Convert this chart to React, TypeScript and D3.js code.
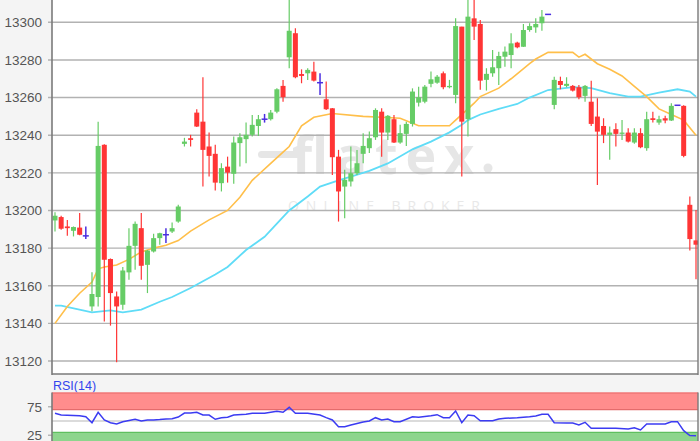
import React from 'react';
import * as d3 from 'd3';

// ---- price axis ----
const priceTicks = [13120, 13140, 13160, 13180, 13200, 13220, 13240, 13260, 13280, 13300];

// ---- candles (index = bar number) ----
const opens = [
  13194.7, 13196.5, 13191.5, 13189.2, 13190.9, 13186.5, 13149.0, 13154.0, 13234.9, 13174.2,
  13154.3, 13149.9, 13167.1, 13181.2, 13190.6, 13171.1, 13178.2, 13185.3, 13187.1, 13188.8,
  13194.1, 13235.4, 13238.4, 13252.0, 13247.2, 13234.0, 13230.1, 13214.5, 13223.3, 13219.5,
  13235.8, 13237.9, 13240.2, 13244.9, 13248.5, 13248.5, 13252.5, 13266.2, 13281.4, 13294.2,
  13272.5, 13272.9, 13273.8, 13267.9, 13259.1, 13254.3, 13228.6, 13212.7, 13215.4, 13219.8,
  13230.1, 13233.1, 13238.9, 13252.5, 13241.4, 13248.5, 13236.1, 13240.7, 13246.0, 13257.3,
  13257.8, 13267.3, 13267.9, 13272.9, 13265.5, 13261.4, 13297.7, 13248.5, 13302.1, 13299.1,
  13269.4, 13272.9, 13275.6, 13281.7, 13282.6, 13289.2, 13287.0, 13295.9, 13297.3, 13299.5,
  13304.2, 13256.1, 13268.8, 13266.2, 13266.2, 13265.5, 13260.9, 13257.8, 13249.9, 13244.9,
  13240.2, 13243.2, 13240.7, 13241.4, 13236.1, 13241.1, 13233.1, 13249.0, 13246.7, 13249.0,
  13247.8, 13255.9, 13255.6, 13203.0, 13184.1,
];
const highs = [
  13199.1, 13197.2, 13195.0, 13191.5, 13198.6, 13191.5, 13167.1, 13247.2, 13235.2, 13174.5,
  13156.9, 13169.9, 13190.6, 13194.1, 13198.6, 13179.0, 13187.6, 13188.2, 13190.6, 13193.6,
  13203.0, 13238.6, 13240.2, 13253.8, 13270.8, 13241.4, 13234.9, 13225.1, 13228.6, 13239.3,
  13241.1, 13246.7, 13250.8, 13250.8, 13251.3, 13253.4, 13264.9, 13269.4, 13315.0, 13296.8,
  13275.0, 13275.6, 13279.1, 13272.9, 13268.5, 13254.5, 13232.2, 13221.6, 13234.0, 13232.2,
  13241.1, 13241.9, 13254.3, 13254.3, 13250.8, 13250.8, 13245.5, 13247.2, 13264.9, 13265.8,
  13266.7, 13273.8, 13272.0, 13273.8, 13269.4, 13302.1, 13297.7, 13315.0, 13315.0, 13301.2,
  13275.6, 13285.3, 13284.4, 13287.1, 13294.2, 13289.7, 13299.1, 13299.5, 13302.1, 13306.5,
  13304.2, 13271.1, 13271.1, 13270.8, 13266.7, 13266.7, 13266.7, 13269.0, 13259.6, 13249.0,
  13244.6, 13246.4, 13248.1, 13243.7, 13243.7, 13243.7, 13252.5, 13252.5, 13250.3, 13250.3,
  13257.0, 13255.9, 13255.9, 13207.4, 13200.3,
];
const lows = [
  13188.8, 13189.7, 13186.5, 13186.2, 13186.8, 13184.9, 13146.4, 13149.0, 13141.0, 13138.8,
  13119.3, 13147.3, 13163.2, 13168.5, 13163.2, 13156.1, 13177.7, 13181.8, 13182.7, 13188.0,
  13193.5, 13234.0, 13234.0, 13244.3, 13212.7, 13218.0, 13210.6, 13210.1, 13214.8, 13214.2,
  13223.3, 13225.1, 13239.3, 13239.6, 13246.7, 13247.8, 13251.7, 13257.8, 13275.6, 13270.3,
  13267.6, 13269.4, 13268.5, 13261.4, 13253.4, 13218.9, 13194.1, 13195.9, 13212.7, 13218.9,
  13225.1, 13230.5, 13237.5, 13228.6, 13237.5, 13235.8, 13235.4, 13234.3, 13244.6, 13255.2,
  13257.0, 13265.5, 13267.3, 13264.4, 13264.9, 13257.0, 13218.0, 13239.3, 13290.6, 13264.1,
  13263.7, 13271.1, 13266.7, 13276.4, 13275.6, 13286.2, 13286.9, 13295.0, 13294.5, 13295.5,
  13304.2, 13253.8, 13264.4, 13265.5, 13263.2, 13259.1, 13257.8, 13244.9, 13213.6, 13235.8,
  13226.9, 13234.0, 13237.5, 13236.1, 13235.4, 13233.1, 13231.8, 13246.7, 13245.5, 13246.4,
  13247.6, 13255.9, 13228.3, 13178.7, 13163.5,
];
const closes = [
  13197.2, 13190.3, 13190.6, 13191.2, 13187.1, 13186.5, 13155.6, 13234.3, 13173.8, 13156.1,
  13149.0, 13168.1, 13181.2, 13192.9, 13170.6, 13178.7, 13185.3, 13187.9, 13187.1, 13190.6,
  13202.1, 13236.6, 13237.5, 13244.6, 13232.2, 13229.0, 13214.8, 13222.5, 13220.1, 13236.1,
  13238.9, 13240.2, 13245.5, 13248.5, 13248.5, 13252.0, 13264.4, 13260.2, 13295.5, 13270.8,
  13271.5, 13274.7, 13269.0, 13267.9, 13253.8, 13228.3, 13210.1, 13216.3, 13219.8, 13225.1,
  13234.3, 13238.4, 13253.4, 13241.4, 13250.3, 13236.1, 13241.1, 13246.0, 13263.2, 13260.2,
  13265.8, 13269.7, 13271.1, 13265.5, 13266.2, 13298.0, 13247.2, 13303.0, 13297.7, 13269.0,
  13272.6, 13276.1, 13282.1, 13284.4, 13288.8, 13286.7, 13295.9, 13298.0, 13299.1, 13303.0,
  13304.2, 13269.4, 13266.7, 13267.3, 13263.7, 13260.2, 13266.2, 13246.0, 13241.9, 13240.2,
  13241.4, 13240.7, 13241.4, 13236.6, 13241.4, 13233.6, 13248.5, 13248.1, 13248.5, 13247.8,
  13255.6, 13255.9, 13229.0, 13184.8, 13181.8,
];

// ---- moving averages (bar index, value) ----
const maFastIdx = [0, 2, 4, 6, 7, 8, 10, 12, 14, 16, 18, 20, 22, 25, 28, 30, 32, 35, 37, 38, 40, 42, 45, 50, 53, 56, 59, 64, 65, 67, 68, 69, 72, 74, 77, 78, 80, 82, 84, 85, 86, 88, 90, 92, 94, 96, 98, 100, 102, 104];
const maFast = [13140, 13149, 13156, 13162, 13169, 13170, 13171, 13174, 13178, 13180, 13181.5, 13184, 13189, 13195, 13200, 13207, 13216, 13225, 13231, 13234, 13245, 13249.5, 13251.5, 13250, 13249.5, 13249, 13245, 13245, 13248, 13254, 13257, 13260.5, 13265, 13270, 13278, 13280.5, 13284, 13284, 13284, 13281.5, 13283, 13278, 13275, 13271.5, 13266, 13260.5, 13254, 13251, 13248, 13240];

const maSlowIdx = [0, 1, 6, 9, 11, 14, 17, 19, 22, 26, 28, 31, 34, 36, 38, 41, 43, 46, 48, 51, 54, 58, 61, 64, 66, 67, 69, 72, 75, 77, 80, 84, 87, 90, 93, 95, 98, 101, 103, 104];
const maSlow = [13149.4, 13149.4, 13145.8, 13146.9, 13145.8, 13147.3, 13151.5, 13154, 13158.8, 13166, 13170, 13179, 13186, 13193, 13200, 13207.4, 13212.7, 13216, 13218, 13221, 13225, 13232.5, 13236.6, 13241.5, 13245.5, 13248, 13251, 13254, 13256.6, 13260, 13264, 13265.5, 13265, 13262.3, 13260.5, 13260.5, 13262.6, 13264.4, 13263.2, 13260.5];

// ---- RSI(14) ----
const rsiIdx = [0, 1, 4, 5, 6, 7, 8, 9, 10, 11, 13, 14, 15, 16, 17, 18, 19, 20, 21, 22, 23, 24, 25, 26, 27, 28, 29, 31, 32, 34, 36, 37, 38, 39, 41, 43, 44, 45, 46, 47, 48, 50, 51, 52, 53, 54, 55, 56, 58, 59, 61, 62, 63, 64, 65, 66, 67, 68, 69, 71, 72, 73, 75, 77, 78, 79, 80, 81, 83, 84, 85, 86, 87, 89, 91, 93, 94, 95, 96, 99, 100, 101, 102, 103, 104];
const rsiValues = [63.5, 60.5, 59.3, 57.5, 47.0, 65.3, 51.8, 47.0, 44.7, 48.8, 53.0, 50.0, 51.8, 51.8, 52.5, 53.5, 54.0, 57.0, 64.0, 64.0, 65.3, 60.5, 60.5, 53.0, 55.8, 56.5, 60.5, 61.8, 63.5, 63.5, 67.0, 65.3, 74.0, 63.5, 63.5, 60.5, 56.0, 51.8, 40.0, 40.0, 43.0, 48.2, 50.0, 55.8, 51.8, 53.5, 48.8, 48.8, 57.5, 56.5, 59.3, 61.1, 55.8, 55.8, 67.5, 47.0, 60.5, 59.3, 50.5, 50.5, 53.5, 54.7, 55.8, 57.5, 58.8, 61.8, 61.8, 47.0, 46.5, 46.5, 43.0, 47.7, 37.2, 37.2, 37.2, 36.0, 38.2, 34.2, 44.7, 44.7, 48.8, 48.8, 33.0, 24.5, 24.0];
const rsiTicks = [75, 25];
const rsiUpper = 70;
const rsiLower = 30;
const rsiLabel = 'RSI(14)';

const UP = '#66cc66';
const DOWN = '#ff3535';
const DOJI = '#4a2ee0';

export default function App() {
  const W = 700, H = 441;
  const left = 52, right = 698, top = 0, bottom = 374;
  const rTop = 392.5, rBottom = 441;

  const x = d3.scaleLinear().domain([0, opens.length - 1]).range([55, 696]);
  const y = d3.scaleLinear().domain([13120, 13300]).range([361, 22.3]);
  const ry = d3.scaleLinear().domain([0, 100]).range([449.5, 392.5]);

  const bodyW = 5;

  const lineGen = d3.line<[number, number]>().x(d => x(d[0])).y(d => y(d[1]));
  const fastPath = lineGen(maFastIdx.map((i, k) => [i, maFast[k]]) as [number, number][]) || '';
  const slowPath = lineGen(maSlowIdx.map((i, k) => [i, maSlow[k]]) as [number, number][]) || '';
  const rsiPath = d3.line<[number, number]>().x(d => x(d[0])).y(d => ry(d[1]))(
    rsiIdx.map((i, k) => [i, rsiValues[k]]) as [number, number][]) || '';

  const font = '"Liberation Sans", Arial, sans-serif';

  return (
    <svg width={W} height={H} style={{ position: 'absolute', left: 0, top: 0, display: 'block' }}
      xmlns="http://www.w3.org/2000/svg">
      <defs>
        <clipPath id="mainClip"><rect x={left} y={top} width={right - left} height={bottom - top} /></clipPath>
        <clipPath id="rsiClip"><rect x={left} y={rTop} width={right - left} height={rBottom - rTop} /></clipPath>
      </defs>
      <rect x={0} y={0} width={W} height={H} fill="#f4f4f4" />
      {/* main plot */}
      <rect x={left} y={top} width={right - left} height={bottom - top} fill="#ffffff" />
      {/* watermark */}
      <g fill="#d6d6d6" opacity={0.6}>
        <rect x={258} y={151} width={46} height={7} rx={3.5} />
        <text x={292} y={174} fontSize={52} fontWeight={700} fontFamily='"Open Sans", "Noto Sans", sans-serif'
          textLength={182} lengthAdjust="spacing">flatex</text>
        <circle cx={488} cy={168} r={4.5} />
        <text x={288} y={211} fontSize={14} fontFamily='"Open Sans", "Noto Sans", sans-serif'
          textLength={192} lengthAdjust="spacing" fill="#dadada">ONLINE BROKER</text>
      </g>
      {/* grid */}
      {priceTicks.map(t => (
        <g key={t}>
          <line x1={left - 4} x2={right} y1={y(t)} y2={y(t)} stroke="#b2b2b2" strokeWidth={1.4} />
          <text x={42} y={y(t)} dy="0.36em" textAnchor="end" fontSize={13.5} fill="#555" fontFamily={font}>{t}</text>
        </g>
      ))}
      <g clipPath="url(#mainClip)">
        <path d={slowPath} fill="none" stroke="#5fdcf7" strokeWidth={1.8} />
        <path d={fastPath} fill="none" stroke="#ffbf4a" strokeWidth={1.6} />
        {opens.map((o, i) => {
          const c = closes[i], h = highs[i], l = lows[i];
          const cx = x(i);
          if (o === c) {
            return (
              <g key={i} stroke={DOJI} strokeWidth={1.5}>
                {h !== l && <line x1={cx} x2={cx} y1={y(h)} y2={y(l)} />}
                <line x1={cx - 3} x2={cx + 3} y1={y(o)} y2={y(o)} />
              </g>
            );
          }
          const col = c > o ? UP : DOWN;
          const yt = y(Math.max(o, c)), yb = y(Math.min(o, c));
          return (
            <g key={i}>
              <line x1={cx} x2={cx} y1={y(h)} y2={y(l)} stroke={col} strokeWidth={1.2} />
              <rect x={cx - bodyW / 2} y={yt} width={bodyW} height={Math.max(1.2, yb - yt)} fill={col} />
            </g>
          );
        })}
      </g>
      {/* main frame */}
      <line x1={left} x2={right} y1={bottom} y2={bottom} stroke="#7a7a7a" strokeWidth={1.6} />
      <line x1={left} x2={left} y1={0} y2={bottom + 1} stroke="#7a7a7a" strokeWidth={1.6} />
      <line x1={right} x2={right} y1={0} y2={bottom + 1} stroke="#7a7a7a" strokeWidth={1.4} />

      {/* RSI panel */}
      <text x={53} y={389.5} fontSize={12.5} fill="#3344ee" fontFamily={font}>{rsiLabel}</text>
      <rect x={left} y={rTop} width={right - left} height={rBottom - rTop} fill="#ffffff" />
      <rect x={left} y={ry(100)} width={right - left} height={ry(rsiUpper) - ry(100)} fill="#ff8d8d" />
      <line x1={left} x2={right} y1={ry(100) + 0.5} y2={ry(100) + 0.5} stroke="#e86a6a" strokeWidth={1.2} />
      <line x1={left} x2={right} y1={ry(rsiUpper)} y2={ry(rsiUpper)} stroke="#e46c6c" strokeWidth={1.2} />
      <rect x={left} y={ry(rsiLower)} width={right - left} height={rBottom - ry(rsiLower)} fill="#8dd58d" />
      <line x1={left} x2={right} y1={ry(rsiLower)} y2={ry(rsiLower)} stroke="#5fbf5f" strokeWidth={1.2} />
      <line x1={left} x2={right} y1={ry(50)} y2={ry(50)} stroke="#b8b8b8" strokeWidth={1.2} />
      {rsiTicks.map(t => (
        <g key={t}>
          <line x1={left - 4} x2={left} y1={ry(t)} y2={ry(t)} stroke="#b2b2b2" strokeWidth={1.4} />
          <text x={42} y={ry(t)} dy="0.36em" textAnchor="end" fontSize={13.5} fill="#555" fontFamily={font}>{t}</text>
        </g>
      ))}
      <g clipPath="url(#rsiClip)">
        <path d={rsiPath} fill="none" stroke="#3b3bf2" strokeWidth={1.5} />
      </g>
      <line x1={left} x2={left} y1={rTop} y2={rBottom} stroke="#7a7a7a" strokeWidth={1.6} />
      <line x1={right} x2={right} y1={rTop} y2={rBottom} stroke="#7a7a7a" strokeWidth={1.4} />
    </svg>
  );
}
